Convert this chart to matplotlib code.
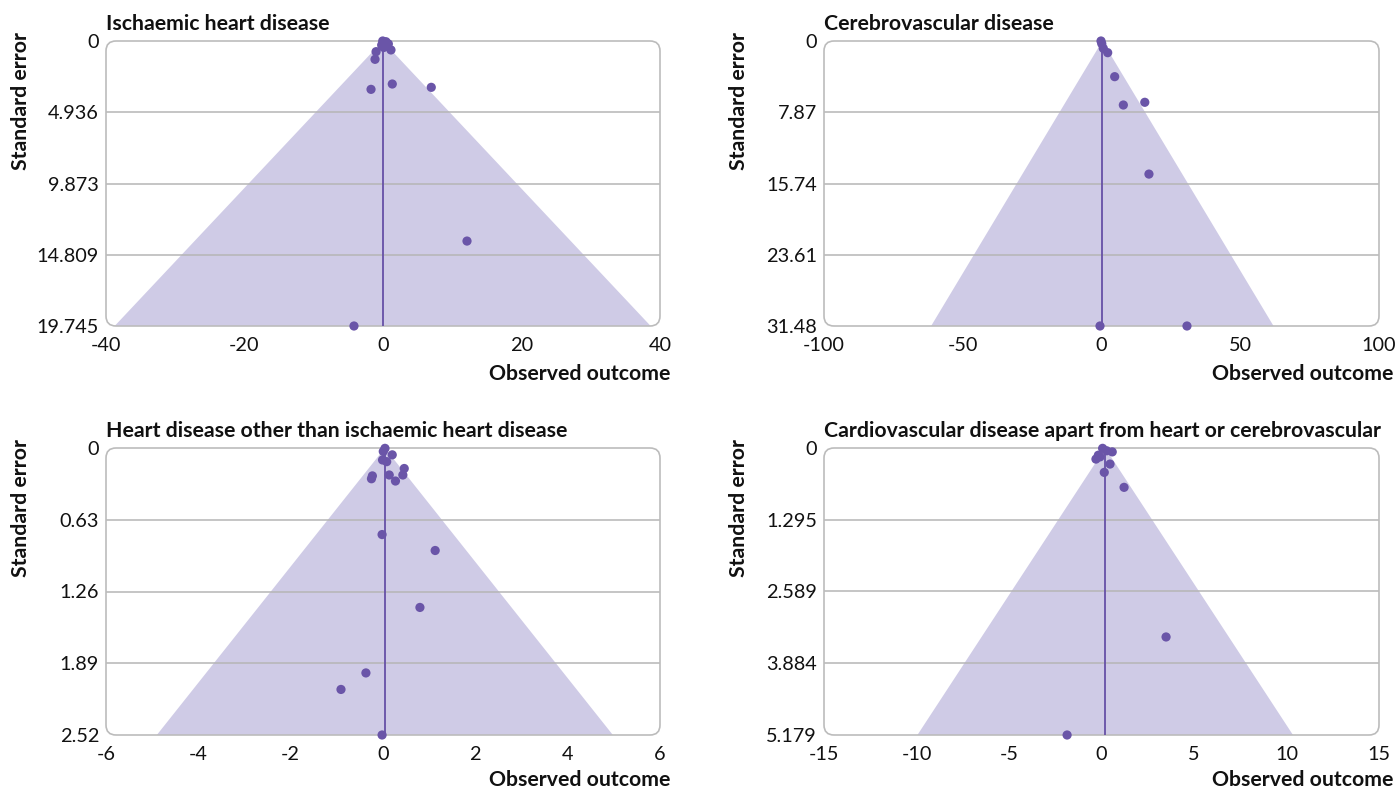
import matplotlib
matplotlib.use("Agg")
import matplotlib.pyplot as plt
from matplotlib.patches import FancyBboxPatch, Polygon

plt.rcParams['font.family'] = ['Lato', 'DejaVu Sans']

# ---- data ----
titles = ["Ischaemic heart disease",
          "Cerebrovascular disease",
          "Heart disease other than ischaemic heart disease",
          "Cardiovascular disease apart from heart or cerebrovascular"]

ihd_x = [-0.04, 0.43, 0.77, -0.19, 0.2, 0.1, 1.15, -1.0, -1.15, -1.73, 1.34, 6.97, 12.13, -4.19]
ihd_se = [0.0, 0.05, 0.2, 0.28, 0.12, 0.45, 0.62, 0.74, 1.27, 3.35, 2.98, 3.21, 13.86, 19.745]

cvd_x = [-0.18, 0.1, 0.65, 2.23, 4.75, 7.87, 15.6, 17.1, -0.54, 30.8]
cvd_se = [0.0, 0.3, 0.81, 1.29, 3.94, 7.07, 6.77, 14.7, 31.48, 31.48]

hd_x = [0.043, 0.006, 0.2, -0.01, 0.08, -0.25, -0.23, 0.135, 0.27, 0.46, 0.43,
        -0.02, 1.13, 0.80, -0.37, -0.91, -0.02]
hd_se = [0.003, 0.03, 0.06, 0.105, 0.12, 0.27, 0.245, 0.237, 0.29, 0.18, 0.237,
         0.76, 0.9, 1.40, 1.975, 2.12, 2.52]

cv_x = [0.06, 0.28, 0.58, -0.17, -0.3, -0.08, 0.46, 0.15, 1.22, 3.49, -1.86]
cv_se = [0.006, 0.05, 0.07, 0.13, 0.2, 0.16, 0.29, 0.44, 0.71, 3.41, 5.179]

centers = [-0.05, 0.3, 0.04, 0.2]

ytick_labels = [["0", "4.936", "9.873", "14.809", "19.745"],
                ["0", "7.87", "15.74", "23.61", "31.48"],
                ["0", "0.63", "1.26", "1.89", "2.52"],
                ["0", "1.295", "2.589", "3.884", "5.179"]]
xticks = [[-40, -20, 0, 20, 40],
          [-100, -50, 0, 50, 100],
          [-6, -4, -2, 0, 2, 4, 6],
          [-15, -10, -5, 0, 5, 10, 15]]

xs = [ihd_x, cvd_x, hd_x, cv_x]
ses = [ihd_se, cvd_se, hd_se, cv_se]

# ---- style ----
FILL = "#cfcbe6"
DOT = "#6a55a8"
LINE = "#6651a6"
GRID = "#b5b5b5"
FRAME = "#bcbcbc"
TXT = "#111111"
BOLD_SIZE = 15.3
TICK_SIZE = 14.3

W, H = 1397, 789
fig = plt.figure(figsize=(W / 100, H / 100), dpi=100)

# pixel boxes: (left, top, right, bottom)
boxes = [(106, 41, 660, 326), (824, 41, 1379, 326),
         (106, 448, 660, 735), (824, 448, 1379, 735)]

for i in range(4):
    l, t, r, b = boxes[i]
    ax = fig.add_axes([l / W, (H - b) / H, (r - l) / W, (b - t) / H])
    ax.patch.set_alpha(0)
    for s in ax.spines.values():
        s.set_visible(False)
    yt = [float(v) for v in ytick_labels[i]]
    ymax = yt[-1]
    xt = xticks[i]
    ax.set_xlim(xt[0], xt[-1])
    ax.set_ylim(ymax, 0)
    c = centers[i]

    # funnel
    tri = Polygon([(c, 0), (c - 1.96 * ymax, ymax), (c + 1.96 * ymax, ymax)],
                  closed=True, facecolor=FILL, edgecolor='none', zorder=1)
    ax.add_patch(tri)

    # gridlines
    for v in yt[1:-1]:
        ax.axhline(v, color=GRID, lw=1.1, zorder=2)

    # frame
    wpx, hpx = r - l, b - t
    frame = FancyBboxPatch((0, 0), 1, 1, transform=ax.transAxes,
                           boxstyle="round,pad=0,rounding_size=%f" % (10 / wpx),
                           mutation_aspect=wpx / hpx,
                           facecolor='none', edgecolor=FRAME, lw=1.2,
                           zorder=3, clip_on=False)
    ax.add_patch(frame)

    # centre line
    ax.plot([c, c], [0, ymax], color=LINE, lw=1.3, zorder=4, solid_capstyle='butt')

    # points
    ax.scatter(xs[i], ses[i], s=44, color=DOT, edgecolors='none', zorder=5, clip_on=False)

    ax.set_yticks(yt)
    ax.set_yticklabels(ytick_labels[i])
    ax.set_xticks(xt)
    ax.set_xticklabels([str(v) for v in xt])
    ax.set_xticks(xt[1:-1], minor=True)
    ax.tick_params(axis='both', which='major', length=0, labelsize=TICK_SIZE, labelcolor=TXT)
    ax.tick_params(axis='y', pad=5)
    ax.tick_params(axis='x', pad=8)
    ax.tick_params(axis='x', which='minor', direction='in', length=6, width=1.1,
                   color=GRID, bottom=True)

    ax.set_title(titles[i], loc='left', fontsize=BOLD_SIZE, fontweight='bold', pad=8,
                 color=TXT)

    # y label
    fig.text((l - 85) / W, (H - (t - 9)) / H, "Standard error", rotation=90,
             ha='center', va='top', fontsize=BOLD_SIZE, fontweight='bold', color=TXT)
    # x label
    ylab = 380 if i < 2 else 786
    xr = 670 if i % 2 == 0 else 1393
    fig.text(xr / W, (H - ylab) / H, "Observed outcome",
             ha='right', va='baseline', fontsize=BOLD_SIZE, fontweight='bold', color=TXT)

fig.savefig("out.png", dpi=100)
